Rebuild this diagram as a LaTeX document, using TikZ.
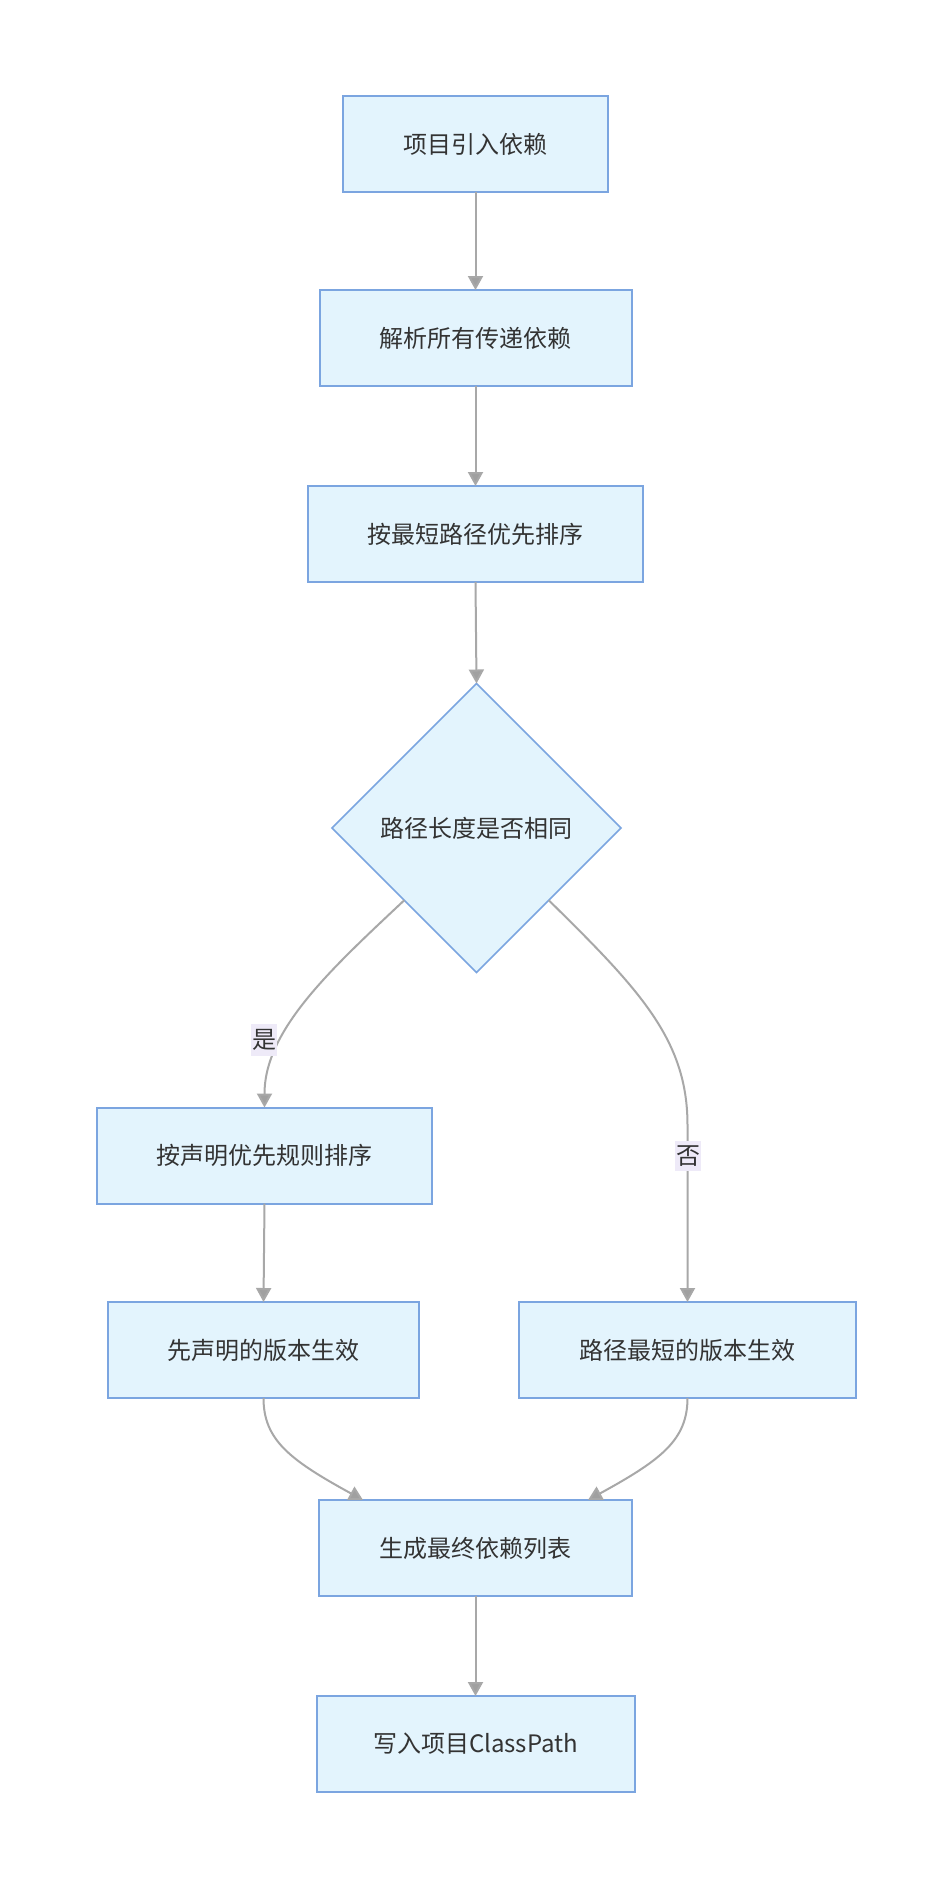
\documentclass[tikz,border=0pt]{standalone}
\usepackage{fontspec}
\setmainfont{Noto Sans CJK SC}
\usetikzlibrary{arrows.meta,shapes.geometric,calc}
\definecolor{boxfill}{HTML}{E3F4FD}
\definecolor{boxline}{HTML}{7BA5E0}
\definecolor{edgeline}{HTML}{A8A8A8}
\definecolor{tipfill}{HTML}{A0A0A0}
\definecolor{txt}{HTML}{333333}
\definecolor{lblbg}{HTML}{EEEAF8}
\begin{document}
\begin{tikzpicture}[x=1pt,y=-1pt,
  box/.style={draw=boxline,fill=boxfill,line width=2pt,minimum height=96pt,text=txt,
    font=\fontsize{24}{28}\selectfont,inner sep=0pt,outer sep=0pt},
  dia/.style={draw=boxline,fill=boxfill,line width=1.6pt,shape=diamond,aspect=1,
    minimum width=289pt,minimum height=289pt,inner sep=0pt,outer sep=0pt,text=txt,
    font=\fontsize{24}{28}\selectfont},
  edge/.style={draw=edgeline,line width=2pt,
    -{Triangle[width=15pt,length=14pt,fill=tipfill]}},
  lbl/.style={fill=lblbg,text=txt,font=\fontsize{24}{28}\selectfont,
    inner xsep=1pt,inner ysep=5pt,minimum width=24pt}
]
\useasboundingbox[fill=white] (0,0) rectangle (952,1888);

\node[box,minimum width=265pt] (n1) at (475.5,144) {项目引入依赖};
\node[box,minimum width=312pt] (n2) at (475.5,338) {解析所有传递依赖};
\node[box,minimum width=335pt] (n3) at (475.5,534) {按最短路径优先排序};
\node[dia] (d) at (476.5,828) {路径长度是否相同};
\node[box,minimum width=335pt] (n4) at (264.5,1155.5) {按声明优先规则排序};
\node[box,minimum width=311pt] (n5) at (263.5,1350) {先声明的版本生效};
\node[box,minimum width=337pt] (n6) at (687.5,1350) {路径最短的版本生效};
\node[box,minimum width=313pt] (n7) at (475.5,1548) {生成最终依赖列表};
\node[box,minimum width=318pt] (n8) at (475.5,1744) {写入项目ClassPath};

\draw[edge] (n1.south) -- (n2.north);
\draw[edge] (n2.south) -- (n3.north);
\draw[edge] (n3.south) -- (d.north);
\draw[edge] (d.south west) .. controls (330,970) and (264.5,1030) .. (n4.north);
\draw[edge] (d.south east) .. controls (640,990) and (687.5,1040) .. (687.5,1125) -- (n6.north);
\draw[edge] (n4.south) -- (n5.north);
\draw[edge] (n5.south) .. controls (263.5,1440) and (290,1460) .. ($(n7.north)+(-112.5,0)$);
\draw[edge] (n6.south) .. controls (687.5,1440) and (661,1460) .. ($(n7.north)+(112.5,0)$);
\draw[edge] (n7.south) -- (n8.north);

\node[lbl] (lyes) at (264,1040) {是};
\node[lbl] (lno) at (688,1156) {否};
\end{tikzpicture}
\end{document}
